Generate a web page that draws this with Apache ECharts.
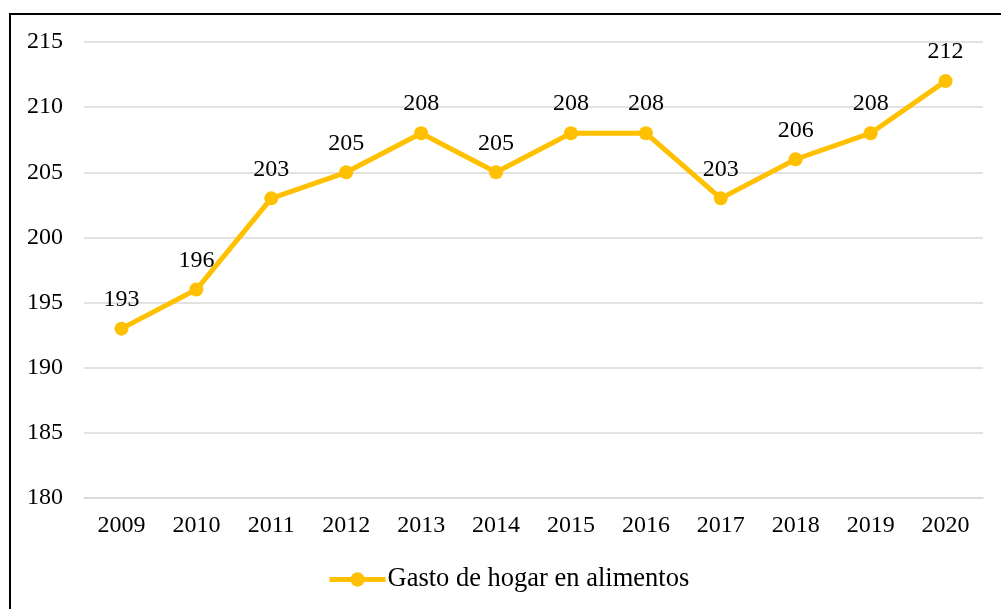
<!DOCTYPE html>
<html>
<head>
<meta charset="utf-8">
<script src="https://cdn.jsdelivr.net/npm/echarts@6/dist/echarts.min.js"></script>
<style>
  html, body { margin: 0; padding: 0; background: #fff; overflow: hidden; }
  #frame { position: absolute; left: 9px; top: 13px; width: 1100px; height: 700px; border: 2px solid #000; box-sizing: border-box; }
  #chart { position: absolute; left: 0; top: 0; width: 1001px; height: 609px; }
</style>
</head>
<body>
<div id="frame"></div>
<div id="chart"></div>
<script>
// años y gasto de hogar en alimentos
const years = ['2009', '2010', '2011', '2012', '2013', '2014', '2015', '2016', '2017', '2018', '2019', '2020'];
const gasto = [193, 196, 203, 205, 208, 205, 208, 208, 203, 206, 208, 212];
const seriesName = 'Gasto de hogar en alimentos';

const FONT = '"Liberation Serif", "DejaVu Serif", serif';
const GOLD = '#FFC000';

const chart = echarts.init(document.getElementById('chart'), null, { renderer: 'canvas' });

chart.setOption({
  animation: false,
  textStyle: { fontFamily: FONT },
  grid: { left: 84, right: 18, top: 42, bottom: 111 },
  legend: {
    bottom: 11,
    left: 322,
    itemWidth: 56,
    itemHeight: 18,
    itemGap: 3,
    lineStyle: { width: 5, color: GOLD },
    textStyle: { fontFamily: FONT, fontSize: 26.5, color: '#000', padding: [0, 0, 0, -3] },
    data: [seriesName]
  },
  xAxis: {
    type: 'category',
    data: years,
    boundaryGap: true,
    axisLine: { show: true, lineStyle: { color: '#d9d9d9', width: 1.5 } },
    axisTick: { show: false },
    axisLabel: { fontFamily: FONT, fontSize: 24, color: '#000', margin: 16 }
  },
  yAxis: {
    type: 'value',
    min: 180,
    max: 215,
    interval: 5,
    axisLine: { show: false },
    axisTick: { show: false },
    axisLabel: { fontFamily: FONT, fontSize: 24, color: '#000', margin: 21 },
    splitLine: { lineStyle: { color: '#d9d9d9', width: 1.5 } }
  },
  series: [{
    name: seriesName,
    type: 'line',
    data: gasto,
    symbol: 'circle',
    symbolSize: 14,
    lineStyle: { color: GOLD, width: 5 },
    itemStyle: { color: GOLD },
    label: {
      show: true,
      position: 'top',
      distance: 10,
      fontFamily: FONT,
      fontSize: 24,
      color: '#000'
    }
  }]
});
</script>
</body>
</html>
